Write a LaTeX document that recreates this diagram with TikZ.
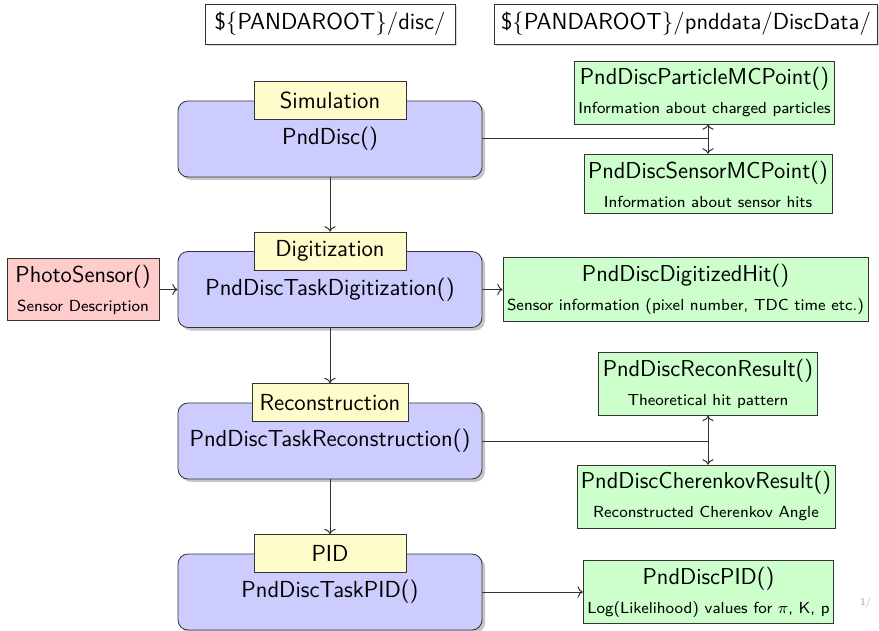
\documentclass[tikz,border=0pt]{standalone}
\usepackage{fontspec}
\usepackage{tikz}
\usetikzlibrary{arrows.meta,positioning,shadows}
\renewcommand{\familydefault}{\sfdefault}
\newcommand{\Sml}[1]{{\fontsize{8}{9.5}\selectfont #1}}

\begin{document}
\begin{tikzpicture}[x=0.5pt,y=-0.5pt,
    stagebox/.style={rectangle,rounded corners=5pt,draw=black!80,fill=blue!20,minimum width=152pt,minimum height=38pt,
        drop shadow={shadow xshift=1.5pt,shadow yshift=-1.5pt,opacity=0.45},font=\fontsize{11.6}{13.5}\selectfont},
    tagbox/.style={rectangle,draw=black!80,fill=yellow!20,minimum width=76pt,minimum height=19pt,font=\fontsize{11.6}{13.5}\selectfont},
    databox/.style={rectangle,draw=black!80,fill=green!20,minimum height=29.5pt,inner xsep=2pt,align=center,font=\fontsize{11.5}{13.5}\selectfont},
    dirbox/.style={rectangle,draw=black!80,fill=white,minimum height=20pt,font=\fontsize{11.6}{13.5}\selectfont,
        drop shadow={shadow xshift=1pt,shadow yshift=-1pt,opacity=0.3}},
    link/.style={draw=black!80,line width=0.5pt}]
    \useasboundingbox (0,0) rectangle (879,631);

    % Directories
    \node[dirbox,minimum width=125pt] (srcdir) at (330,24) {\$\{PANDAROOT\}/disc/};
    \node[dirbox,minimum width=190pt] (datadir) at (686,24) {\$\{PANDAROOT\}/pnddata/DiscData/};

    % Tasks
    \node[stagebox] (sim) at (330,139) {PndDisc()};
    \node[tagbox] (simtag) at (sim.north) {Simulation};

    \node[stagebox] (dig) at (330,289.5) {PndDiscTaskDigitization()};
    \node[tagbox] (digtag) at (dig.north) {Digitization};

    \node[stagebox] (rec) at (330,441) {PndDiscTaskReconstruction()};
    \node[tagbox,minimum width=78pt] (rectag) at (rec.north) {Reconstruction};

    \node[stagebox] (pid) at (330,592) {PndDiscTaskPID()};
    \node[tagbox] (pidtag) at (pid.north) {PID};

    % Sensor description
    \node[databox,fill=red!20,minimum width=76pt,minimum height=30pt] (photo) at (83,289.5)
        {PhotoSensor()\\[1pt]\Sml{Sensor Description}};

    % Output data
    \node[databox] (part) at (704.5,92.5) {PndDiscParticleMCPoint()\\[1pt]\Sml{Information about charged particles}};
    \node[databox] (sens) at (708,184) {PndDiscSensorMCPoint()\\[1pt]\Sml{Information about sensor hits}};
    \node[databox] (hit) at (685.5,289.5) {PndDiscDigitizedHit()\\[1pt]\Sml{Sensor information (pixel number, TDC time etc.)}};
    \node[databox] (recres) at (708,384) {PndDiscReconResult()\\[1pt]\Sml{Theoretical hit pattern}};
    \node[databox] (cher) at (706,496.5) {PndDiscCherenkovResult()\\[1pt]\Sml{Reconstructed Cherenkov Angle}};
    \node[databox] (pidout) at (708.5,592) {PndDiscPID()\\[1pt]\Sml{Log(Likelihood) values for $\pi$, K, p}};

    \coordinate (j1) at (708,139);
    \coordinate (j2) at (708,441);

    % Connectors
    \draw[link,->] (sim) -- (digtag);
    \draw[link,->] (dig) -- (rectag);
    \draw[link,->] (rec) -- (pidtag);
    \draw[link,->] (photo) -- (dig);
    \draw[link,->] (dig) -- (hit);
    \draw[link,->] (pid) -- (pidout);

    \draw[link] (sim) -- (j1);
    \draw[link,->] (j1) -- (j1 |- part.south);
    \draw[link,->] (j1) -- (j1 |- sens.north);
    \draw[link] (rec) -- (j2);
    \draw[link,->] (j2) -- (j2 |- recres.south);
    \draw[link,->] (j2) -- (j2 |- cher.north);

    \node[anchor=east,text=blue!30!gray!60,font=\fontsize{5}{6}\selectfont] (pagenum) at (878,603) {1/};
\end{tikzpicture}
\end{document}
